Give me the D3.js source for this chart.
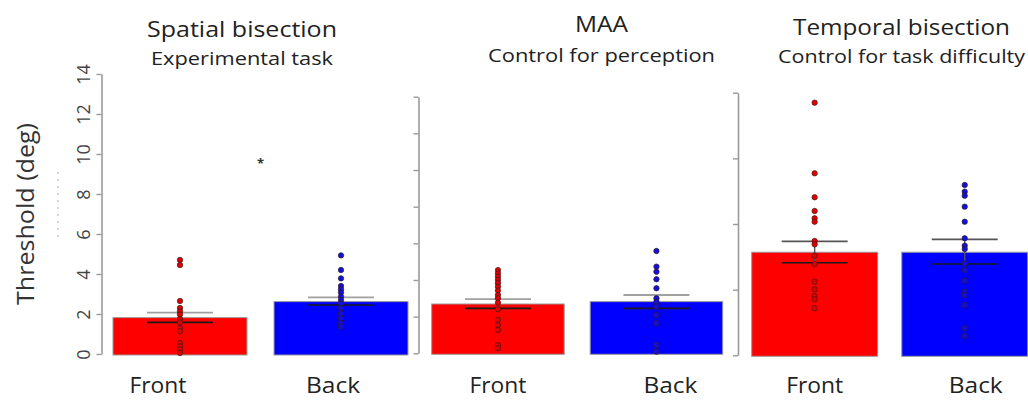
<!DOCTYPE html>
<html>
<head>
<meta charset="utf-8">
<script src="https://cdn.jsdelivr.net/npm/d3@7"></script>
<style>
  html, body { margin: 0; padding: 0; background: #fff; }
  svg { display: block; }
  text { font-family: "Open Sans", "Noto Sans", sans-serif; }
</style>
</head>
<body>
<svg id="chart" width="1028" height="401"></svg>
<script>
// ---- data ----
const conditions = ["Front", "Back"];
const barColors = ["#ff0000", "#0000ff"];

const panelTitles = ["Spatial bisection", "MAA", "Temporal bisection"];
const panelSubtitles = ["Experimental task", "Control for perception", "Control for task difficulty"];

// Spatial bisection (deg)
const spatialMeans = [1.82, 2.62];
const spatialErrLow = [1.58, 2.45];
const spatialErrHigh = [2.07, 2.83];
const spatialFront = [4.7, 4.45, 2.65, 2.3, 2.13, 1.97, 1.75, 1.58, 1.3, 1.13, 0.55, 0.38, 0.22, 0.05];
const spatialBack = [4.93, 4.2, 3.78, 3.4, 3.23, 3.07, 2.87, 2.7, 2.53, 2.28, 2.03, 1.78, 1.53, 1.37];
const spatialStar = 9.65;

// MAA (deg)
const maaMeans = [2.69, 2.82];
const maaErrLow = [2.45, 2.45];
const maaErrHigh = [2.96, 3.18];
const maaFront = [4.54, 4.36, 4.18, 4.0, 3.82, 3.63, 3.42, 3.18, 3.0, 2.76, 2.4, 1.82, 1.54, 1.27, 0.45, 0.27];
const maaBack = [5.58, 4.73, 4.45, 4.04, 3.55, 3.0, 2.82, 2.54, 2.09, 1.64, 0.45, 0.09];

// Temporal bisection (ms)
const temporalMeans = [157, 157];
const temporalErrLow = [141, 139];
const temporalErrHigh = [173.6, 176.7];
const temporalFront = [384.8, 277.2, 240.7, 219.8, 208.7, 203.5, 174.1, 169, 151.7, 139, 112.1, 100.5, 90.3, 85.3, 71.6];
const temporalBack = [259.4, 249.2, 243.1, 226.4, 203.5, 178.2, 167, 161.9, 140.1, 129.9, 113.6, 96.9, 91.8, 76.6, 41.1, 29.4];

const spatialTicks = [0, 2, 4, 6, 8, 10, 12, 14];
const maaTicks = [0, 2, 4, 6, 8, 10, 12, 14];
const temporalTicks = [0, 100, 200, 300, 400];

// ---- layout ----
const panels = [
  { means: spatialMeans, lo: spatialErrLow, hi: spatialErrHigh, dots: [spatialFront, spatialBack],
    ticks: spatialTicks, domain: [0, 14], showTickLabels: true,
    axisX: 101.5, yRange: [354, 74], xRange: [113, 408], pad: 0.168,
    labelShift: [-22, -8], capTop: "#a0a0a0",
    titleX: 242, titleY: 36.5, titleLen: 190, subY: 64.5, subLen: 182 },
  { means: maaMeans, lo: maaErrLow, hi: maaErrHigh, dots: [maaFront, maaBack],
    ticks: maaTicks, domain: [0, 14], showTickLabels: false,
    axisX: 418.5, yRange: [353.3, 96.7], xRange: [431.7, 722.7], pad: 0.164,
    labelShift: [0, 14], capTop: "#a0a0a0",
    titleX: 601.5, titleY: 31.5, titleLen: 53, subY: 61.5, subLen: 227 },
  { means: temporalMeans, lo: temporalErrLow, hi: temporalErrHigh, dots: [temporalFront, temporalBack],
    ticks: temporalTicks, domain: [0, 400], showTickLabels: false,
    axisX: 738, yRange: [355.3, 92.7], xRange: [751.7, 1027.7], pad: 0.161,
    labelShift: [0, 11], capTop: "#555555",
    titleX: 901.5, titleY: 35, titleLen: 217, subY: 63.3, subLen: 247 }
];

const svg = d3.select("#chart");

// y-axis title
svg.append("text")
  .attr("transform", "translate(34,214) rotate(-90)")
  .attr("text-anchor", "middle")
  .attr("font-size", 23)
  .attr("fill", "#333")
  .attr("textLength", 182)
  .attr("lengthAdjust", "spacingAndGlyphs")
  .text("Threshold (deg)");

// faint dotted mark beside the axis title
svg.append("line")
  .attr("x1", 58).attr("x2", 58).attr("y1", 172).attr("y2", 237)
  .attr("stroke", "#a9bccd").attr("stroke-width", 1.2)
  .attr("stroke-dasharray", "2,5");

panels.forEach((p, pi) => {
  const g = svg.append("g");
  const y = d3.scaleLinear().domain(p.domain).range(p.yRange);
  const x = d3.scaleBand().domain(conditions).range(p.xRange)
    .paddingInner(p.pad).paddingOuter(0);

  // axis
  const axis = d3.axisLeft(y).tickValues(p.ticks).tickSize(5).tickSizeOuter(0)
    .tickFormat(p.showTickLabels ? d3.format("d") : () => "");
  const ag = g.append("g").attr("transform", `translate(${p.axisX},0)`).call(axis);
  ag.select(".domain").attr("stroke", "#9a9a9a").attr("stroke-width", 1.6);
  ag.selectAll(".tick line").attr("stroke", "#9a9a9a").attr("stroke-width", 1.4);
  // tick labels read bottom-to-top, centred on each tick
  ag.selectAll(".tick text")
    .attr("font-family", "Liberation Sans, Arial, sans-serif")
    .attr("font-size", 18)
    .attr("fill", "#444")
    .attr("x", null).attr("y", 0).attr("dy", 0)
    .attr("text-anchor", "middle")
    .attr("transform", "translate(-12,0) rotate(-90)");

  // bars
  g.selectAll("rect.bar").data(conditions).join("rect")
    .attr("class", "bar")
    .attr("x", d => x(d))
    .attr("width", x.bandwidth())
    .attr("y", (d, i) => y(p.means[i]))
    .attr("height", (d, i) => y(0) - y(p.means[i]) + 1)
    .attr("fill", (d, i) => barColors[i])
    .attr("stroke", "#9a9a9a")
    .attr("stroke-width", 1);

  const cx = d => x(d) + x.bandwidth() / 2;
  const halfCap = 33;

  // error bars: stem, upper cap, lower cap
  conditions.forEach((c, i) => {
    g.append("line")
      .attr("x1", cx(c)).attr("x2", cx(c))
      .attr("y1", y(p.hi[i])).attr("y2", y(p.lo[i]))
      .attr("stroke", "#555").attr("stroke-width", 1.4);
    g.append("line")
      .attr("x1", cx(c) - halfCap).attr("x2", cx(c) + halfCap)
      .attr("y1", y(p.hi[i])).attr("y2", y(p.hi[i]))
      .attr("stroke", p.capTop).attr("stroke-width", 1.8);
    g.append("line")
      .attr("x1", cx(c) - halfCap).attr("x2", cx(c) + halfCap)
      .attr("y1", y(p.lo[i])).attr("y2", y(p.lo[i]))
      .attr("stroke", "#1a1a1a").attr("stroke-width", 1.6);
  });

  // individual points
  conditions.forEach((c, i) => {
    g.selectAll(null).data(p.dots[i]).join("circle")
      .attr("cx", cx(c))
      .attr("cy", d => y(d))
      .attr("r", 2.7)
      .attr("fill", i === 1 ? "#1010e0" : "#e00000")
      .attr("stroke", "#3a1a1a")
      .attr("stroke-opacity", 0.75)
      .attr("stroke-width", 0.9);
  });

  // condition labels
  g.selectAll("text.cond").data(conditions).join("text")
    .attr("class", "cond")
    .attr("x", (d, i) => cx(d) + p.labelShift[i])
    .attr("y", 393)
    .attr("text-anchor", "middle")
    .attr("font-size", 21)
    .attr("fill", "#222")
    .attr("textLength", d => d === "Front" ? 57 : 54)
    .attr("lengthAdjust", "spacingAndGlyphs")
    .text(d => d);

  // titles
  g.append("text")
    .attr("x", p.titleX).attr("y", p.titleY)
    .attr("text-anchor", "middle")
    .attr("font-size", 22).attr("fill", "#222")
    .attr("textLength", p.titleLen).attr("lengthAdjust", "spacingAndGlyphs")
    .text(panelTitles[pi]);
  g.append("text")
    .attr("x", p.titleX).attr("y", p.subY)
    .attr("text-anchor", "middle")
    .attr("font-size", 19).attr("fill", "#222")
    .attr("textLength", p.subLen).attr("lengthAdjust", "spacingAndGlyphs")
    .text(panelSubtitles[pi]);

  // significance marker between the spatial bars
  if (pi === 0) {
    g.append("text")
      .attr("x", (cx("Front") + cx("Back")) / 2)
      .attr("y", y(spatialStar) + 7)
      .attr("text-anchor", "middle")
      .attr("font-family", "DejaVu Sans, sans-serif")
      .attr("font-weight", "bold")
      .attr("font-size", 13)
      .attr("fill", "#333")
      .text("*");
  }
});
</script>
</body>
</html>
